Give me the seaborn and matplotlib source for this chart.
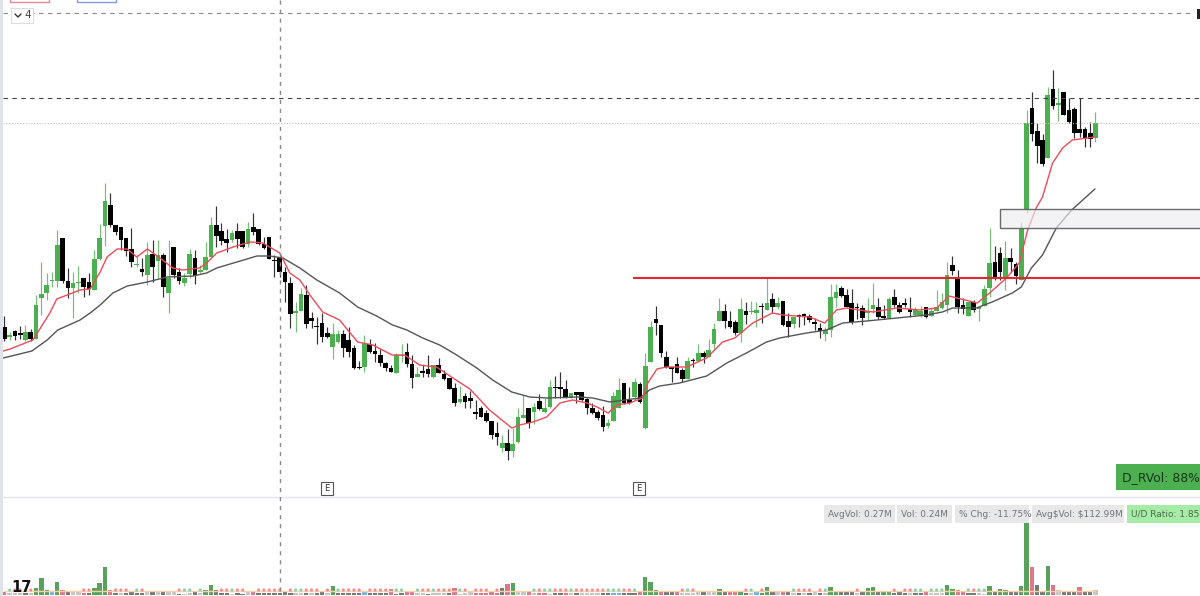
import matplotlib
matplotlib.use('Agg')
import matplotlib.pyplot as plt
from matplotlib.patches import Rectangle
import numpy as np
import pandas as pd
import seaborn as sns

# Price and volume, no axis is shown so units are arbitrary
opens = [273, 263, 269, 267, 260, 268, 261, 302, 307, 319,
         319, 362, 319, 312, 317, 322, 318, 310, 341, 374,
         395, 375, 373, 362, 351, 335, 331, 325, 346, 339,
         345, 307, 353, 328, 317, 326, 342, 328, 330, 343,
         375, 369, 361, 360, 369, 369, 356, 373, 371, 356,
         363, 340, 343, 328, 317, 287, 289, 305, 282, 274,
         277, 267, 253, 258, 266, 260, 252, 233, 233, 256,
         249, 245, 237, 232, 227, 244, 248, 236, 223, 229,
         231, 223, 235, 226, 222, 212, 198, 204, 202, 188,
         192, 187, 179, 167, 152, 157, 149, 158, 182, 192,
         188, 199, 188, 193, 213, 213, 211, 203, 208, 208,
         201, 192, 188, 185, 174, 179, 192, 217, 200, 203,
         216, 172, 238, 281, 275, 243, 233, 236, 230, 221,
         240, 239, 247, 243, 256, 279, 289, 279, 278, 267,
         289, 288, 287, 294, 290, 301, 293, 299, 279, 276,
         285, 286, 284, 278, 272, 266, 270, 302, 312, 305,
         297, 293, 292, 287, 291, 293, 284, 282, 303, 295,
         297, 291, 285, 285, 293, 284, 289, 292, 295, 335,
         323, 295, 284, 298, 291, 294, 312, 338, 347, 323,
         342, 336, 320, 390, 492, 469, 460, 442, 511, 495,
         508, 490, 491, 471, 471, 467, 462]
highs = [284, 268, 270, 274, 275, 271, 305, 338, 327, 328,
         370, 362, 332, 328, 334, 322, 327, 350, 376, 417,
         407, 375, 373, 362, 372, 345, 342, 358, 360, 360,
         347, 360, 353, 332, 327, 351, 350, 335, 358, 383,
         394, 377, 371, 370, 377, 369, 378, 387, 371, 363,
         363, 345, 343, 333, 323, 298, 312, 315, 288, 283,
         287, 273, 277, 270, 270, 273, 255, 239, 265, 261,
         257, 251, 238, 235, 247, 256, 257, 245, 233, 235,
         245, 235, 242, 230, 222, 217, 214, 207, 209, 200,
         194, 190, 179, 178, 165, 171, 172, 192, 205, 192,
         197, 206, 202, 220, 224, 228, 220, 207, 208, 208,
         202, 197, 190, 194, 181, 208, 222, 217, 213, 222,
         218, 247, 279, 294, 275, 249, 233, 243, 232, 243,
         242, 256, 249, 261, 277, 302, 296, 289, 280, 302,
         298, 299, 298, 297, 323, 307, 303, 299, 287, 283,
         286, 287, 286, 282, 277, 273, 316, 316, 314, 311,
         311, 297, 295, 302, 317, 302, 295, 303, 311, 298,
         302, 303, 293, 294, 293, 293, 310, 307, 338, 344,
         330, 302, 298, 300, 293, 315, 372, 354, 353, 359,
         352, 338, 378, 490, 508, 477, 466, 513, 530, 512,
         508, 502, 493, 502, 473, 478, 488]
lows = [259, 260, 260, 261, 259, 259, 261, 285, 300, 313,
        313, 317, 302, 282, 307, 303, 305, 310, 340, 354,
        373, 365, 350, 344, 333, 333, 324, 315, 318, 322,
        303, 287, 322, 316, 314, 322, 316, 327, 330, 343,
        353, 355, 348, 358, 352, 352, 353, 365, 355, 351,
        341, 323, 323, 298, 272, 268, 289, 272, 272, 256,
        258, 262, 241, 257, 243, 243, 231, 231, 228, 247,
        238, 234, 229, 228, 227, 238, 233, 212, 223, 223,
        223, 222, 227, 220, 211, 194, 197, 192, 192, 181,
        183, 178, 161, 155, 148, 140, 143, 157, 182, 172,
        176, 190, 187, 192, 202, 202, 202, 202, 197, 199,
        186, 186, 180, 169, 172, 179, 192, 196, 196, 200,
        197, 171, 238, 265, 243, 232, 218, 227, 218, 221,
        233, 238, 237, 243, 251, 279, 272, 272, 265, 258,
        276, 286, 273, 277, 290, 287, 291, 274, 263, 272,
        273, 275, 278, 270, 262, 259, 263, 293, 303, 293,
        276, 281, 275, 280, 287, 281, 281, 282, 293, 287,
        293, 283, 284, 283, 282, 284, 289, 291, 287, 325,
        287, 286, 284, 288, 279, 294, 303, 320, 320, 310,
        328, 316, 320, 387, 459, 437, 434, 442, 491, 479,
        485, 477, 462, 463, 453, 453, 458]
closes = [261, 265, 264, 265, 268, 261, 295, 306, 315, 320,
          355, 319, 312, 317, 318, 313, 311, 341, 362, 399,
          375, 368, 360, 349, 338, 336, 328, 345, 333, 345,
          313, 322, 325, 319, 322, 346, 324, 330, 343, 375,
          364, 359, 357, 367, 361, 353, 371, 368, 356, 352,
          341, 339, 328, 318, 286, 289, 306, 276, 279, 273,
          263, 263, 266, 266, 252, 248, 232, 232, 257, 248,
          246, 237, 232, 228, 245, 245, 236, 222, 226, 227,
          226, 235, 227, 221, 211, 197, 201, 198, 199, 186,
          183, 179, 165, 163, 157, 149, 156, 183, 185, 177,
          193, 191, 192, 213, 212, 211, 202, 207, 205, 200,
          192, 187, 182, 173, 177, 204, 210, 197, 197, 218,
          198, 234, 273, 277, 247, 233, 231, 227, 221, 239,
          239, 247, 243, 250, 271, 289, 279, 273, 267, 291,
          285, 289, 290, 293, 297, 293, 297, 275, 273, 283,
          283, 283, 280, 276, 269, 270, 303, 308, 304, 293,
          278, 292, 282, 289, 295, 283, 282, 301, 295, 288,
          295, 288, 290, 289, 283, 289, 293, 298, 325, 329,
          293, 291, 298, 290, 293, 311, 337, 322, 328, 342,
          338, 324, 372, 477, 466, 454, 436, 505, 494, 497,
          485, 478, 467, 467, 462, 461, 477]

# Moving averages read at the bends of each line
fast_bars = [-0.2, 1.1, 5.4, 8.6, 9.9, 14.3, 16.2, 18.1, 19.4, 21.3, 23.2, 25, 27, 29.4,
             31.8, 33.7, 36.9, 38.2, 40.1, 43.2, 46.4, 48.8, 52, 53.9, 55.8, 57.7, 60.1,
             63.3, 66.7, 69.6, 73.2, 75.6, 78.4, 81.6, 84.7, 87.9, 91.6, 95.8, 97.3, 99.8,
             102.4, 104.9, 107.3, 110, 111.9, 114, 115.6, 118.1, 120.5, 121.5, 123.2, 125,
             128.8, 132.6, 135.6, 137.9, 141.3, 145, 147, 152, 154.9, 157.1, 159, 164,
             168.5, 172.8, 176, 178.4, 179.8, 183.7, 186, 189.2, 191.6, 193.2, 194.8, 196,
             197.9, 199.8, 201.6, 205.9]
fast_ma = [249, 251, 260, 287, 301, 310, 311, 328, 343, 351, 351, 343, 351, 342,
           332, 330, 332, 337, 347, 353, 358, 357, 347, 327, 320, 305, 288,
           280, 258, 255, 245, 245, 235, 233, 222, 211, 190, 172, 175, 178,
           183, 197, 200, 197, 193, 187, 195, 197, 202, 217, 231, 233,
           233, 242, 258, 262, 277, 287, 285, 283, 277, 290, 292, 288,
           292, 290, 292, 304, 302, 297, 307, 322, 337, 370, 392, 403,
           437, 452, 460, 463]
slow_bars = [-0.2, 5.2, 8.1, 10.1, 14.3, 16.2, 18.1, 20.5, 23.2, 27, 30.7, 35.6, 38.2, 40.1,
             43.9, 47.7, 50.1, 52.6, 55.8, 59, 63.3, 66.7, 70.3, 73.3, 76, 79, 82.2, 85.4,
             89.2, 92.2, 95.8, 99.2, 102.4, 108.6, 111.1, 114.3, 120, 121.8, 123.7, 127.5,
             132.6, 136.4, 140.1, 143.9, 146.4, 151.5, 155.2, 158.3, 162.8, 168.5, 174.1,
             177.1, 179, 183.5, 186.5, 190.3, 192, 193.9, 196, 198.6, 201.5, 205.9]
slow_ma = [242, 249, 260, 270, 280, 287, 295, 307, 314, 318, 323, 324, 327, 332,
           338, 344, 344, 342, 332, 320, 307, 293, 284, 275, 270, 262, 255, 245,
           232, 220, 208, 203, 202, 203, 202, 198, 202, 210, 214, 217,
           224, 237, 247, 258, 262, 267, 270, 277, 279, 282, 285,
           288, 292, 292, 298, 307, 313, 332, 345, 372, 390, 411]

volumes = [3, 2, 2, 2, 2, 2, 7, 17, 5, 3,
           13, 5, 3, 3, 3, 2, 2, 7, 12, 28,
           5, 2, 2, 2, 3, 2, 2, 4, 4, 3,
           4, 3, 3, 1, 1, 2, 4, 2, 5, 10,
           5, 2, 2, 1, 2, 1, 4, 4, 2, 2,
           2, 2, 2, 3, 2, 2, 2, 2, 2, 2,
           3, 2, 9, 2, 2, 2, 2, 2, 3, 2,
           2, 2, 2, 6, 1, 2, 3, 3, 2, 2,
           1, 2, 2, 2, 2, 7, 1, 2, 4, 2,
           2, 2, 4, 2, 7, 11, 12, 4, 4, 4,
           2, 2, 2, 1, 2, 2, 2, 2, 2, 2,
           2, 2, 2, 2, 2, 2, 2, 2, 2, 2,
           3, 18, 13, 5, 4, 3, 3, 3, 2, 2,
           2, 3, 4, 4, 4, 6, 3, 3, 3, 4,
           2, 2, 3, 2, 8, 3, 3, 4, 3, 2,
           2, 2, 2, 3, 2, 2, 8, 4, 3, 3,
           3, 2, 3, 7, 8, 3, 4, 4, 2, 3,
           2, 2, 2, 2, 3, 2, 2, 2, 10, 6,
           5, 4, 2, 2, 2, 1, 9, 3, 6, 5,
           3, 3, 9, 72, 28, 10, 4, 29, 10, 5,
           4, 4, 4, 8, 4, 4, 5]
vol_kinds = list('PLLLDLGGGB'
                 'GPDLLPDGGG'
                 'PDLDDDDLDL'
                 'DLLDLLDLGG'
                 'DDDLDDLPDD'
                 'DDDDDLLDLD'
                 'DLGDDDDDBD'
                 'DDDPDDPPLL'
                 'DLLLDPLLLP'
                 'PPPPDPGLLP'
                 'LPPLDDPLDL'
                 'LLLDDBBDDD'
                 'PGGGPDDPLL'
                 'LLDLLGDPPG'
                 'DLBGGDLPDL'
                 'DLDLDLGGDD'
                 'DLDGGDGGDD'
                 'DLDDPLLLGG'
                 'PPDDLLGDGG'
                 'DDGGPDDGPL'
                 'DDDPDDL')

stat_labels = ['AvgVol: 0.27M', 'Vol: 0.24M', '% Chg: -11.75%', 'Avg\\$Vol: \\$112.99M', 'U/D Ratio: 1.85']
rvol_label = 'D_RVol: 88%'

assert len(opens) == len(highs) == len(lows) == len(closes) == len(volumes) == len(vol_kinds) == 207

up_color = '#4caf50'
kind_colors = {'G': up_color, 'P': '#f2647f', 'D': '#787878', 'L': '#c6c6c6', 'B': '#64b5f6'}

df = pd.DataFrame({'bar': np.arange(len(opens)), 'open': opens, 'high': highs, 'low': lows,
                   'close': closes, 'volume': volumes, 'kind': vol_kinds})
df['up'] = df['close'] > df['open']

sns.set_theme(style='white')
plt.rcParams['font.family'] = ['DejaVu Sans']

W, H = 1200, 596
SPLIT = 497
fig = plt.figure(figsize=(W / 100, H / 100), dpi=100, facecolor='white')
ax_price = fig.add_axes([0, (H - SPLIT) / H, 1, SPLIT / H])
ax_vol = fig.add_axes([0, 0, 1, (H - SPLIT) / H])
overlay = fig.add_axes([0, 0, 1, 1], zorder=5)   # pixel space, for the drawn-on stuff

# bar 0 sits at x=4.3px, 5.297px per bar
xlim = (-4.3 / 5.297, (W - 4.3) / 5.297)

# Candles
for up, color, wick in [(True, up_color, '#74c078'), (False, 'black', '#333333')]:
    d = df[df['up'] == up]
    ax_price.vlines(d['bar'], d['low'], d['high'], color=wick, lw=0.85, zorder=2)
    bottom = d[['open', 'close']].min(axis=1)
    height = (d['close'] - d['open']).abs().clip(lower=1.5)
    ax_price.bar(d['bar'], height, bottom=bottom, width=0.88, color=color, lw=0, zorder=3)

sns.lineplot(x=slow_bars, y=slow_ma, color='#555555', lw=1.0, sort=False, estimator=None, ax=ax_price, zorder=4)
sns.lineplot(x=fast_bars, y=fast_ma, color='#ec4c58', lw=1.0, sort=False, estimator=None, ax=ax_price, zorder=4)
ax_price.set_xlim(xlim)
ax_price.set_ylim(600 - SPLIT, 600)
ax_price.axis('off')

# Volume pane
sns.barplot(data=df, x='bar', y='volume', hue='kind', palette=kind_colors, native_scale=True,
            dodge=False, width=0.82, linewidth=0, legend=False, ax=ax_vol, zorder=2)
avg_vol = [4.5] * len(df)
sns.lineplot(x=df['bar'], y=avg_vol, color='#f8d3a4', lw=1.0, ax=ax_vol, zorder=3)
dots = df[df['volume'] <= 2]
sns.scatterplot(x=dots['bar'], y=[5] * len(dots), hue=dots['up'], palette={True: '#7fd0c0', False: '#f58a9c'},
                s=5, linewidth=0, legend=False, ax=ax_vol, zorder=4)
ax_vol.set_xlim(xlim)
ax_vol.set_ylim(-1, H - SPLIT - 1)
ax_vol.axis('off')

# Overlay in pixels: lines, boxes and labels
overlay.set_xlim(0, W)
overlay.set_ylim(H, 0)
overlay.axis('off')
overlay.patch.set_alpha(0)

overlay.axvspan(0, 2.5, color='#e0e3eb', lw=0)
overlay.hlines(SPLIT, 0, W, color='#e3e5ea', lw=1)
overlay.hlines(13, 3, 1194, color='#8a8a8a', lw=0.8, ls=(0, (4, 4)))
overlay.hlines(98, 3, W, color='#444444', lw=0.8, ls=(0, (4, 4)))
overlay.hlines(123, 3, W, color='#b9c4b9', lw=0.8, ls=(0, (1, 1.5)))
overlay.vlines(280, 0, H, color='#8a8a8a', lw=1.0, ls=(0, (3, 3.5)))
overlay.hlines(278, 633, W, color='#e0282e', lw=1.5)
# see-through zone, the candle and the averages show under it
overlay.add_patch(Rectangle((999.5, 209), 205, 19, fc=(0.93, 0.93, 0.95, 0.65), ec='#6a6a6a', lw=1))

# toolbar leftovers along the top edge
overlay.add_patch(Rectangle((10, -6), 39, 7.5, fc='white', ec='#e58a9a', lw=1))
overlay.add_patch(Rectangle((77, -6), 39, 7.5, fc='white', ec='#7d9ce0', lw=1))
overlay.add_patch(Rectangle((1197, 9), 5, 10, fc='#222222', lw=0))
overlay.add_patch(Rectangle((11, 8), 22, 15, fc='white', ec='#dddddd', lw=0.8, zorder=3))
overlay.plot([15, 18, 21], [14, 17, 14], color='#333333', lw=1.0, zorder=4)
overlay.text(27.5, 15.5, '4', ha='center', va='center', fontsize=7.5, color='#444444', zorder=4)

for ex in (327, 639):
    overlay.add_patch(Rectangle((ex - 6, 481.5), 12, 13, fc='white', ec='#555555', lw=0.8))
    overlay.text(ex, 488.3, 'E', ha='center', va='center', fontsize=6, color='#333333')

overlay.add_patch(Rectangle((1116, 464), 90, 26, fc=up_color, lw=0))
overlay.text(1122, 477.5, rvol_label, ha='left', va='center', fontsize=8.9, color='#17361a')

stat_boxes = [(824, 895), (897, 952), (955, 1029), (1032, 1124), (1127, 1206)]
for (x0, x1), label in zip(stat_boxes, stat_labels):
    is_ratio = label.startswith('U/D')
    overlay.add_patch(Rectangle((x0, 505), x1 - x0, 18, fc='#a6eca6' if is_ratio else '#e8e8e8', lw=0))
    overlay.text(x0 + 4, 514.3, label, ha='left', va='center', fontsize=6.5,
                 color='#4c6a4c' if is_ratio else '#70737c')

overlay.text(11, 588, '17', ha='left', va='center', fontsize=10.5, fontweight='bold', color='#111111')

fig.savefig('out.png', dpi=100)
